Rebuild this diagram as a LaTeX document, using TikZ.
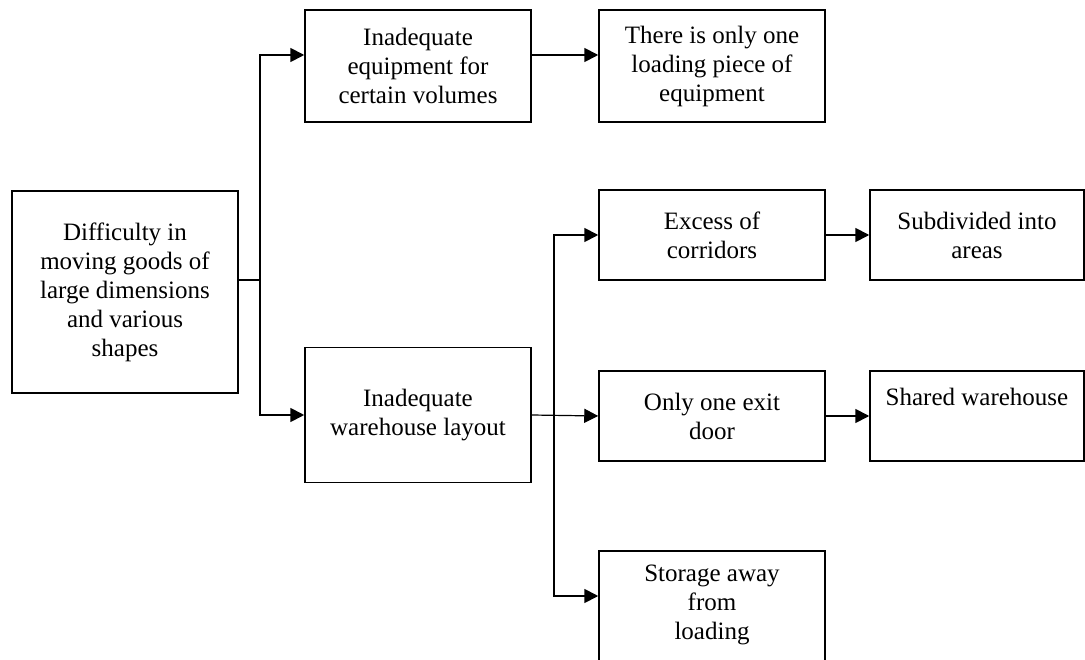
\documentclass[tikz,border=0pt]{standalone}
\usepackage{fontspec}
\setmainfont{Liberation Serif}
\usetikzlibrary{positioning,arrows.meta}

\begin{document}
\begin{tikzpicture}[x=1pt,y=-1pt,
    box/.style={draw,line width=1.5pt,inner sep=0pt,align=center,
        minimum width=226pt,font=\fontsize{25}{29}\selectfont},
    arr/.style={-{Triangle[length=14pt,width=14pt]},line width=1.8pt}]
    \useasboundingbox (0,0) rectangle (1085,660);
    \clip (0,0) rectangle (1085,660);
    \node[box,minimum height=202pt] (Dif) at (125,292) {Difficulty in\\moving goods of\\large dimensions\\and various\\shapes};
    \node[box,minimum height=112pt] (Equ) at (418,66) {Inadequate\\equipment for\\certain volumes};
    \node[box,minimum height=112pt] (One) at (712,66) {There is only one\\loading piece of\\equipment};
    \node[box,minimum height=135pt] (Lay) at (418,415) {Inadequate\\warehouse layout};
    \node[box,minimum height=90pt] (Cor) at (712,235) {Excess of\\corridors};
    \node[box,minimum height=90pt,minimum width=214pt] (Are) at (977,235) {Subdivided into\\areas};
    \node[box,minimum height=90pt] (Exi) at (712,416) {Only one exit\\door};
    \node[box,minimum height=90pt,minimum width=214pt] (Sha) at (977,416) {Shared warehouse\\\strut};
    \node[box,minimum height=140pt] (Sto) at (712,621) {Storage away\\from\\loading\\\strut};
    \coordinate (J1) at (260,280);
    \coordinate (J2) at (554,416);
    \draw[line width=1.2pt] ([yshift=12pt]Dif.east) -- (J1);
    \draw[arr] (J1) |- ([yshift=11pt]Equ.west);
    \draw[arr] (J1) |- (Lay.west);
    \draw[arr] ([yshift=11pt]Equ.east) -- ([yshift=11pt]One.west);
    \draw[arr,line width=1.2pt] (Lay.east) -- (Exi.west);
    \draw[arr] (J2) |- (Cor.west);
    \draw[arr] (J2) |- ([yshift=25pt]Sto.west);
    \draw[arr] (Cor) -- (Are);
    \draw[arr] (Exi) -- (Sha);
\end{tikzpicture}
\end{document}
